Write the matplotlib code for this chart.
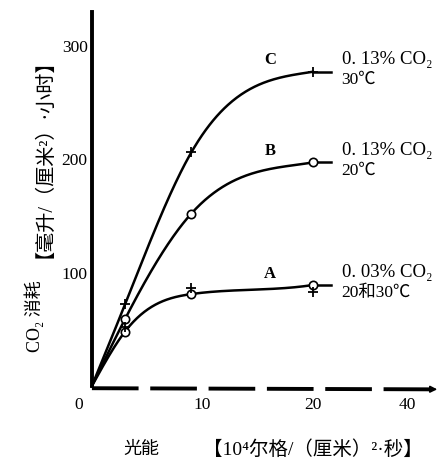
import numpy as np
import matplotlib
matplotlib.use("Agg")
import matplotlib.pyplot as plt

plt.rcParams['font.family'] = ['Liberation Serif', 'Noto Sans CJK SC', 'DejaVu Sans']

# ---- data ----
light = [0, 3, 9, 20]                     # 10^4 erg/(cm)^2*s
curve_C = [0, 72, 206, 277]               # 0.13% CO2, 30C
curve_B = [0, 59, 152, 197]               # 0.13% CO2, 20C
curve_A = [0, 48, 81, 89]                 # 0.03% CO2, 20 & 30C
A_plus = [0, 52, 86, 83]                  # 30C points of curve A
x_ticks = [10, 20, 28.5]
x_tick_labels = ['10', '20', '40']
y_ticks = [100, 200, 300]
y_tick_labels = ['100', '200', '300']
labels = ['C', 'B', 'A']
notes = [('0. 13% CO₂', '30℃'), ('0. 13% CO₂', '20℃'), ('0. 03% CO₂', '20和30℃')]


def spline(x, y, xs, end_slope=0.0):
    """cubic spline: natural at start, clamped slope at end"""
    x = np.asarray(x, float); y = np.asarray(y, float)
    n = len(x); h = np.diff(x)
    A = np.zeros((n, n)); r = np.zeros(n)
    A[0, 0] = 2; A[0, 1] = 1; r[0] = 3 * (y[1] - y[0]) / h[0]
    for i in range(1, n - 1):
        A[i, i - 1] = 1 / h[i - 1]
        A[i, i] = 2 / h[i - 1] + 2 / h[i]
        A[i, i + 1] = 1 / h[i]
        r[i] = 3 * ((y[i] - y[i - 1]) / h[i - 1]**2 + (y[i + 1] - y[i]) / h[i]**2)
    A[-1, -1] = 1; r[-1] = end_slope
    m = np.linalg.solve(A, r)
    out = np.empty(len(xs))
    for j, xv in enumerate(xs):
        k = min(max(np.searchsorted(x, xv) - 1, 0), n - 2)
        t = (xv - x[k]) / h[k]
        out[j] = ((2 * t**3 - 3 * t**2 + 1) * y[k] + (t**3 - 2 * t**2 + t) * h[k] * m[k]
                  + (-2 * t**3 + 3 * t**2) * y[k + 1] + (t**3 - t**2) * h[k] * m[k + 1])
    return out


fig = plt.figure(figsize=(4.44, 4.65), dpi=100)
ax = fig.add_axes([0.207, 0.170, 0.784, 0.805])
ax.set_xlim(0, 31.5)
ax.set_ylim(0, 330)

xs = np.linspace(0, 20, 300)
lw = 1.8
for ys in (curve_C, curve_B, curve_A):
    ax.plot(xs, spline(light, ys, xs, 1.5), color='black', lw=lw, clip_on=False)
    ax.plot([20, 21.6], [ys[-1], ys[-1]], color='black', lw=lw, clip_on=False)

ax.plot(light[1:], curve_C[1:], ls='none', marker='+', ms=7, mew=1.3, color='black', clip_on=False)
ax.plot(light[1:], curve_B[1:], ls='none', marker='o', ms=6, mew=1.2, mfc='white', mec='black', clip_on=False)
ax.plot(light[1:], curve_A[1:], ls='none', marker='o', ms=6, mew=1.2, mfc='white', mec='black', clip_on=False)
ax.plot(light[1:], A_plus[1:], ls='none', marker='+', ms=7, mew=1.3, color='black', clip_on=False)

# curve letters
for lab, ys in zip(labels, (curve_C, curve_B, curve_A)):
    ax.text(16.1, ys[-1] + 3, lab, fontsize=12, fontweight='bold', ha='center', va='bottom')

# notes at right
for (l1, l2), ys in zip(notes, (curve_C, curve_B, curve_A)):
    ax.text(22.6, ys[-1] + 11, l1, fontsize=13.5, ha='left', va='center')
    ax.text(22.6, ys[-1] - 7, l2, fontsize=12.5, ha='left', va='center')

# axes
for s in ('top', 'right', 'bottom'):
    ax.spines[s].set_visible(False)
ax.spines['left'].set_linewidth(2.8)
ax.spines['left'].set_bounds(0, 330)
ax.plot([0, 31], [-2, -3], color='black', lw=2.8, ls=(0, (12, 3)), clip_on=False)
ax.annotate('', xy=(31.5, -3), xytext=(29.5, -2.8),
            arrowprops=dict(arrowstyle='-|>', color='black', lw=1.2), annotation_clip=False)

ax.set_xticks(x_ticks)
ax.set_xticklabels(x_tick_labels, fontsize=12.5)
ax.set_yticks(y_ticks)
ax.set_yticklabels(y_tick_labels, fontsize=12.5)
ax.tick_params(axis='y', length=0, pad=3)
ax.tick_params(axis='x', length=0, pad=8)
ax.text(-0.8, -10, '0', fontsize=12.5, ha='right', va='top')

# axis titles (two pieces each, as spaced in the picture)
ax.text(-0.165, 0.187, 'CO₂ 消耗', transform=ax.transAxes, rotation=90,
        fontsize=13, ha='center', va='center')
ax.text(-0.165, 0.634, '【毫升/（厘米²）·小时】', transform=ax.transAxes, rotation=90,
        fontsize=14.5, ha='center', va='center')
ax.text(0.141, -0.171, '光能', transform=ax.transAxes, fontsize=13, ha='center', va='center')
ax.text(0.635, -0.171, '【10⁴尔格/（厘米）²·秒】', transform=ax.transAxes, fontsize=14,
        ha='center', va='center')

fig.savefig('out.png', dpi=100, facecolor='white')
